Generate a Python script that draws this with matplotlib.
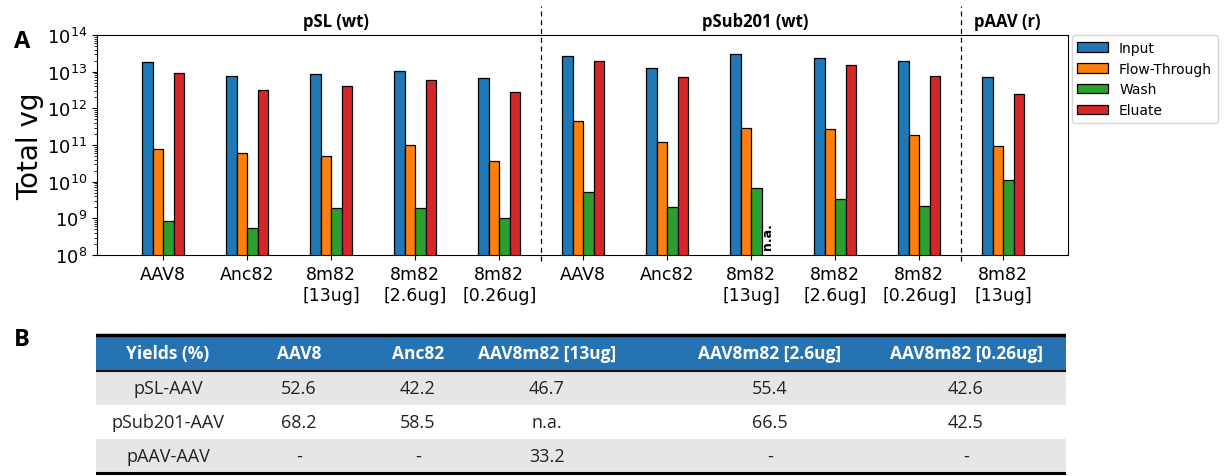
import numpy as np
import matplotlib.pyplot as plt
import matplotlib.transforms as mtransforms
from matplotlib.patches import Rectangle
from matplotlib.ticker import LogLocator, NullFormatter

# samples along the x axis (three plasmid groups)
samples = ["AAV8", "Anc82", "8m82\n[13ug]", "8m82\n[2.6ug]", "8m82\n[0.26ug]",
           "AAV8", "Anc82", "8m82\n[13ug]", "8m82\n[2.6ug]", "8m82\n[0.26ug]",
           "8m82\n[13ug]"]
groups = ["pSL (wt)", "pSub201 (wt)", "pAAV (r)"]
group_sizes = [5, 5, 1]

fractions = ["Input", "Flow-Through", "Wash", "Eluate"]
input_vg = [1.8e13, 7.4e12, 8.7e12, 1.05e13, 6.9e12,
            2.7e13, 1.26e13, 3.0e13, 2.3e13, 1.9e13,
            7.3e12]
flow_vg = [7.8e10, 6.0e10, 4.9e10, 1.0e11, 3.6e10,
           4.4e11, 1.2e11, 2.9e11, 2.7e11, 1.9e11,
           9.6e10]
wash_vg = [8.5e8, 5.6e8, 1.9e9, 1.9e9, 1.0e9,
           5.1e9, 2.1e9, 6.7e9, 3.4e9, 2.2e9,
           1.1e10]
eluate_vg = [9.4e12, 3.2e12, 4.0e12, 5.9e12, 2.8e12,
             1.9e13, 7.3e12, np.nan, 1.5e13, 7.8e12,
             2.4e12]
colors = ["#1f77b4", "#ff7f0e", "#2ca02c", "#d62728"]

# yield table
table_header = ["Yields (%)", "AAV8", "Anc82", "AAV8m82 [13ug]",
                "AAV8m82 [2.6ug]", "AAV8m82 [0.26ug]"]
table_rows = [
    ["pSL-AAV", "52.6", "42.2", "46.7", "55.4", "42.6"],
    ["pSub201-AAV", "68.2", "58.5", "n.a.", "66.5", "42.5"],
    ["pAAV-AAV", "-", "-", "33.2", "-", "-"],
]

W, H = 1225, 477
fig = plt.figure(figsize=(W / 100, H / 100), dpi=100)

# ---- panel A: bar chart ----
ax = fig.add_axes([97 / W, 1 - 256 / H, (1068 - 97) / W, (256 - 36) / H])
x = np.arange(len(samples))
width = 0.125
series = [input_vg, flow_vg, wash_vg, eluate_vg]
for k, (vals, col, name) in enumerate(zip(series, colors, fractions)):
    ax.bar(x + (k - 1.5) * width, vals, width, color=col, edgecolor="black",
           linewidth=0.9, label=name, bottom=0)
ax.set_yscale("log")
ax.set_ylim(1e8, 1e14)
ax.yaxis.set_major_locator(LogLocator(base=10, numticks=12))
ax.yaxis.set_minor_locator(LogLocator(base=10, subs=np.arange(2, 10), numticks=12))
ax.yaxis.set_minor_formatter(NullFormatter())
ax.set_xlim(-0.79, len(samples) - 0.23)
ax.set_xticks(x)
ax.set_xticklabels(samples, fontsize=12.5)
ax.tick_params(axis="y", labelsize=13)
ax.set_ylabel("Total vg", fontsize=20, labelpad=2)

# eluate missing for pSub201 13ug
for i, v in enumerate(eluate_vg):
    if np.isnan(v):
        ax.text(x[i] + 1.5 * width, 1.45e8, "n.a.", rotation=90, ha="center",
                va="bottom", fontsize=9, fontweight="bold")

# group separators and titles
trans = mtransforms.blended_transform_factory(ax.transData, ax.transAxes)
edges = np.cumsum([0] + group_sizes) - 0.5
for e in edges[1:-1]:
    ax.plot([e, e], [-0.027, 1.132], transform=trans, color="black",
            linestyle=(0, (4, 3)), linewidth=0.9, clip_on=False)
right_lim = ax.get_xlim()[1]
for g, (a, b) in enumerate(zip(edges[:-1], edges[1:])):
    b = min(b, right_lim)
    ax.text((a + b) / 2 + 0.05, 1.064, groups[g], transform=trans, ha="center",
            va="center", fontsize=12, fontweight="bold", family="Open Sans")

ax.legend(loc="upper left", bbox_to_anchor=(1.004, 1.0), fontsize=10,
          handlelength=2.2, borderaxespad=0.0, frameon=True)

fig.text(14 / W, 1 - 42 / H, "A", fontsize=17, fontweight="bold",
         family="Open Sans", va="center")
fig.text(14 / W, 1 - 340 / H, "B", fontsize=17, fontweight="bold",
         family="Open Sans", va="center")

# ---- panel B: table ----
tax = fig.add_axes([96 / W, 0, (1066 - 96) / W, 1], frameon=False)
tax.set_xlim(96, 1066)
tax.set_ylim(H, 0)
tax.set_axis_off()
row_edges = [336, 372, 406, 440, 474]
col_centers = [168, 299, 418, 547, 770, 966]
fills = ["#2673b3", "#e6e6e6", "white", "#e6e6e6"]
for r in range(4):
    y0, y1 = row_edges[r], row_edges[r + 1]
    tax.add_patch(Rectangle((96, y0), 970, y1 - y0, facecolor=fills[r],
                            edgecolor="none"))
    cells = table_header if r == 0 else table_rows[r - 1]
    for cx, txt in zip(col_centers, cells):
        tax.text(cx, (y0 + y1) / 2, txt, ha="center", va="center",
                 fontsize=12.5 if r == 0 else 13, family="Open Sans",
                 color="white" if r == 0 else "#222222",
                 fontweight="bold" if r == 0 else "normal")
tax.plot([96, 1066], [row_edges[0], row_edges[0]], color="black", linewidth=2.5)
tax.plot([96, 1066], [row_edges[1], row_edges[1]], color="#111111", linewidth=1.5)
tax.plot([96, 1066], [row_edges[-1], row_edges[-1]], color="black", linewidth=2.2)

fig.savefig("out.png", dpi=100)
